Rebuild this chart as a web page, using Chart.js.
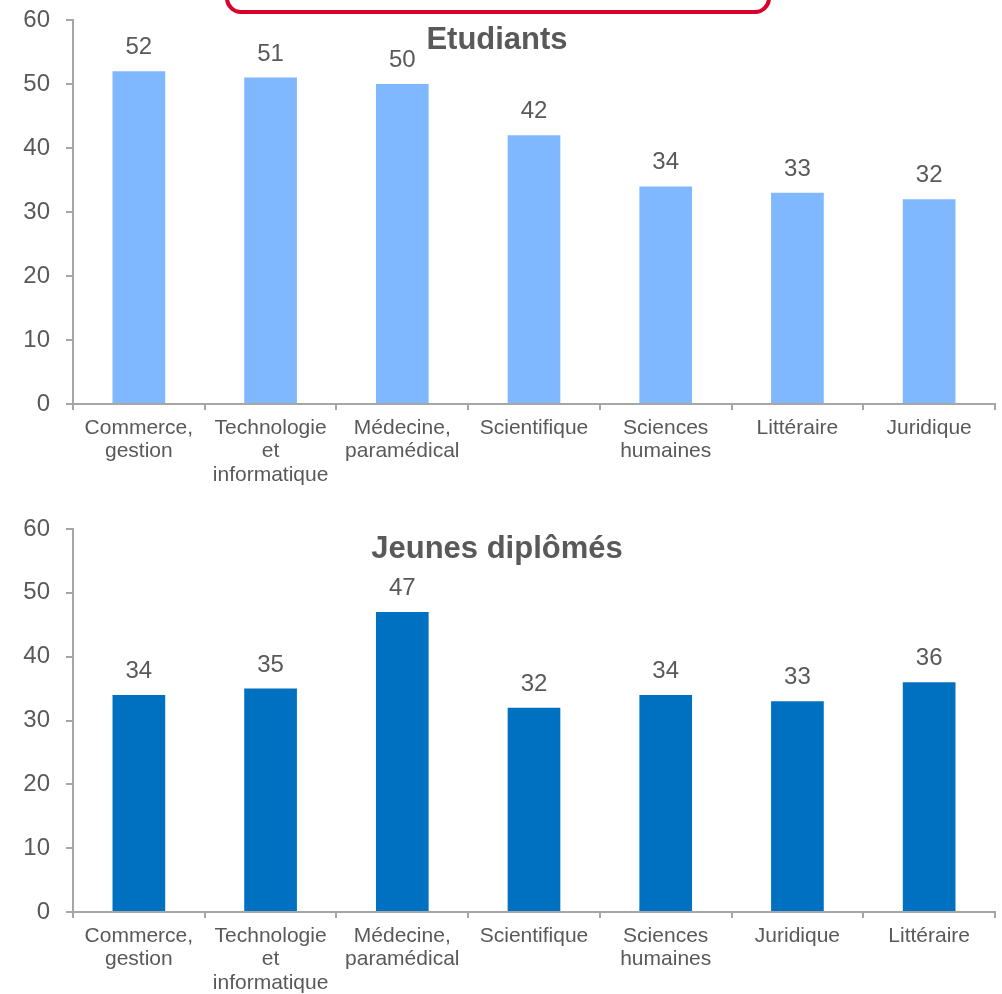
<!DOCTYPE html>
<html>
<head>
<meta charset="utf-8">
<script src="https://cdn.jsdelivr.net/npm/chart.js@4"></script>
<style>
  html, body { margin: 0; padding: 0; background: #fff; overflow: hidden; }
  .wrap { position: relative; display: flow-root; width: 1002px; height: 994px; }
  canvas { display: block; }
  #cTop { margin-top: -12px; }
  .redbox { position: absolute; left: 225px; top: -30px; width: 538px; height: 36px;
            border: 4px solid #d9002b; border-radius: 16px; }
</style>
</head>
<body>
<div class="wrap">
  <canvas id="cTop" width="1002" height="509"></canvas>
  <canvas id="cBot" width="1002" height="497"></canvas>
  <div class="redbox"></div>
</div>
<script>
// données
const catsTop = [["Commerce,", "gestion"], ["Technologie", "et", "informatique"], ["Médecine,", "paramédical"], "Scientifique", ["Sciences", "humaines"], "Littéraire", "Juridique"];
const valsTop = [52, 51, 50, 42, 34, 33, 32];
const catsBot = [["Commerce,", "gestion"], ["Technologie", "et", "informatique"], ["Médecine,", "paramédical"], "Scientifique", ["Sciences", "humaines"], "Juridique", "Littéraire"];
const valsBot = [34, 35, 47, 32, 34, 33, 36];
const yTicks = [0, 10, 20, 30, 40, 50, 60];

const FONT = '"Liberation Sans", Arial, sans-serif';
const TXT = "#595959", AXIS = "#a6a6a6";

// valeurs au-dessus des barres + titre dans la zone
const labelsPlugin = {
  id: "valLabels",
  afterDatasetsDraw(chart, args, opts) {
    const ctx = chart.ctx;
    ctx.save();
    ctx.fillStyle = TXT;
    ctx.font = `24px ${FONT}`;
    ctx.textAlign = "center";
    ctx.textBaseline = "alphabetic";
    chart.getDatasetMeta(0).data.forEach((bar, i) => {
      ctx.fillText(chart.data.datasets[0].data[i], bar.x, bar.y - 17);
    });
    ctx.font = `bold 31px ${FONT}`;
    ctx.textBaseline = "middle";
    ctx.fillText(opts.title, 497, opts.titleY);
    ctx.restore();
  }
};

function makeChart(id, cats, vals, color, title, titleY, padTop, xH) {
  return new Chart(document.getElementById(id), {
    type: "bar",
    data: { labels: cats, datasets: [{ data: vals, backgroundColor: color, barPercentage: 0.4, categoryPercentage: 1 }] },
    options: {
      responsive: false, animation: false, devicePixelRatio: 1,
      layout: { padding: { top: padTop, right: 7, left: 0, bottom: 0 } },
      plugins: { legend: { display: false }, tooltip: { enabled: false }, valLabels: { title, titleY } },
      scales: {
        x: {
          grid: { drawOnChartArea: false, color: AXIS, lineWidth: 2, tickLength: 6, offset: true },
          border: { color: AXIS, width: 2 },
          ticks: { color: TXT, font: { family: FONT, size: 21, lineHeight: 1.12 }, padding: 6, maxRotation: 0, autoSkip: false },
          afterFit(s) { s.height = xH; }
        },
        y: {
          min: 0, max: 60,
          afterBuildTicks(s) { s.ticks = yTicks.map(v => ({ value: v })); },
          grid: { drawOnChartArea: false, color: AXIS, lineWidth: 2, tickLength: 7 },
          border: { color: AXIS, width: 2 },
          ticks: { color: TXT, font: { family: FONT, size: 24 }, padding: 16 },
          afterFit(s) { s.width = 73; }
        }
      }
    },
    plugins: [labelsPlugin]
  });
}

makeChart("cTop", catsTop, valsTop, "#7fb8ff", "Etudiants", 52, 32, 93);
makeChart("cBot", catsBot, valsBot, "#0070c0", "Jeunes diplômés", 52, 32, 82);
</script>
</body>
</html>
